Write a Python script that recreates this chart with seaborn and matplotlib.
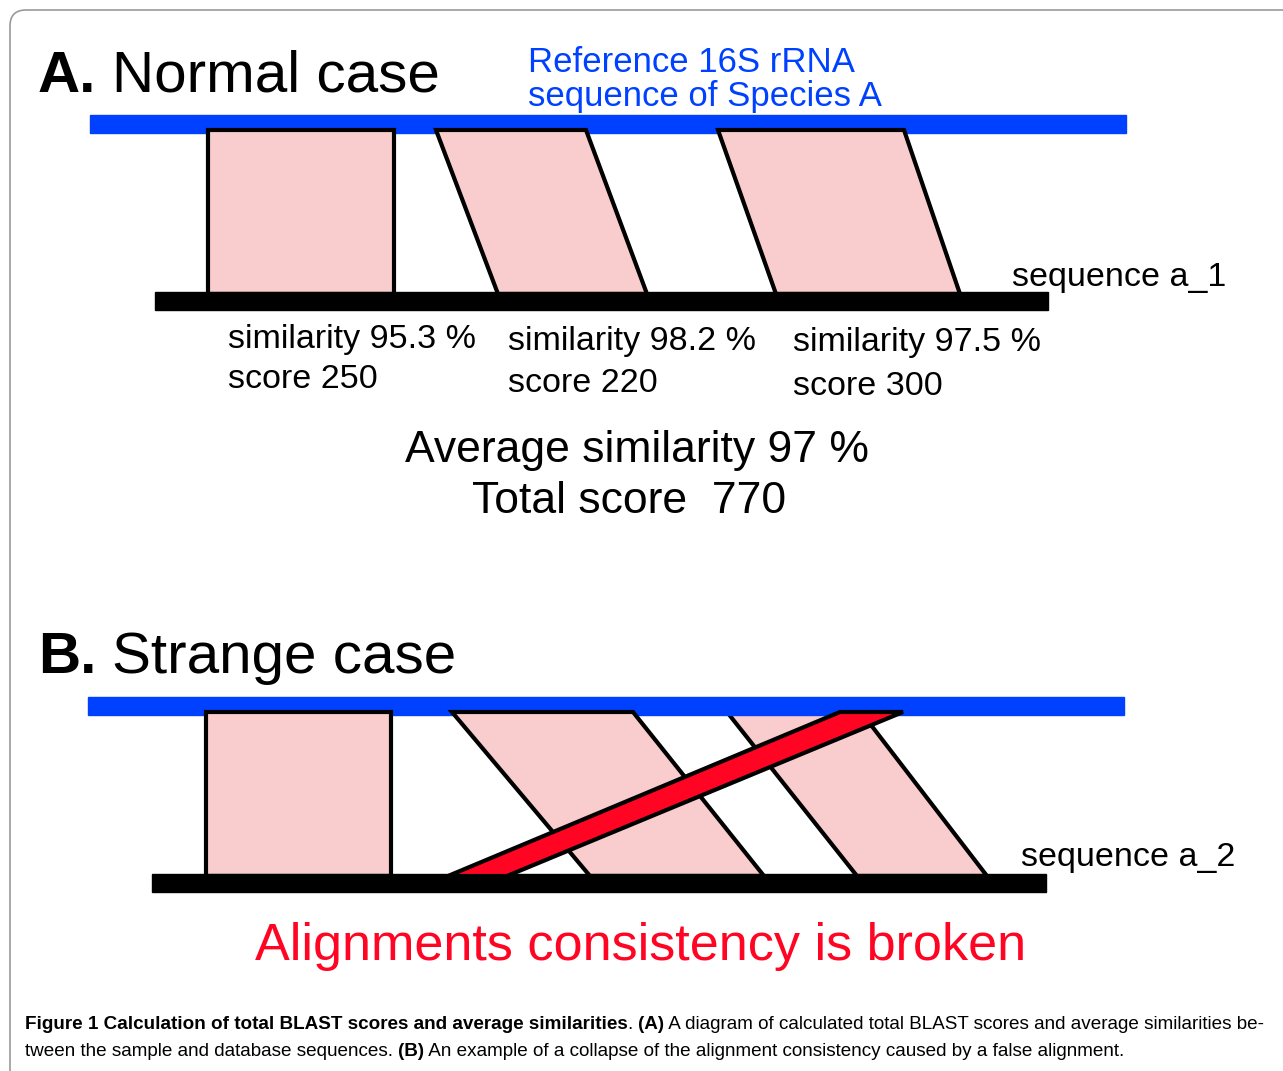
import matplotlib.pyplot as plt
import seaborn as sns
from matplotlib import font_manager
from matplotlib.patches import FancyBboxPatch, Polygon, Rectangle

# alignment blocks: where each hit sits on the reference (top) and on the query (bottom)
ref_a_start = [208, 436, 718]
ref_a_end = [394, 586, 904]
qry_a_start = [208, 498, 776]
qry_a_end = [394, 647, 960]
similarity_a = [95.3, 98.2, 97.5]
score_a = [250, 220, 300]

ref_b_start = [206, 452, 727]
ref_b_end = [391, 633, 861]
qry_b_start = [206, 590, 857]
qry_b_end = [391, 764, 987]

# the false alignment in case B
false_ref = [840, 903]
false_qry = [448, 507]

avg_similarity = 97
total_score = 770

PINK = "#F9CDCD"
BLUE = "#0040FF"
RED = "#FF0523"

sns.set_theme(style="white")
plt.rcParams["font.family"] = ["Liberation Sans", "DejaVu Sans"]
plt.rcParams["text.color"] = "black"

installed = {f.name for f in font_manager.fontManager.ttflist}
cap_font = "Liberation Sans Narrow" if "Liberation Sans Narrow" in installed else "Liberation Sans"

fig = plt.figure(figsize=(12.83, 10.71), dpi=100)
ax = fig.add_axes((0, 0, 1, 1))
ax.set_xlim(0, 1283)
ax.set_ylim(1071, 0)
ax.axis("off")

# rounded frame, clipped by the right and bottom edges
frame = FancyBboxPatch((10, 10), 1400, 1200, boxstyle="round,pad=0,rounding_size=16",
                       fill=False, ec="#9a9a9a", lw=1.2)
ax.add_patch(frame)


def draw_panel(y_ref, y_qry, ref_x, qry_x, rs, re, qs, qe, under_ref=()):
    bar_h = 18
    ax.add_patch(Rectangle((ref_x[0], y_ref), ref_x[1] - ref_x[0], bar_h, color=BLUE, zorder=3))
    ax.add_patch(Rectangle((qry_x[0], y_qry), qry_x[1] - qry_x[0], bar_h, color="black", zorder=5))
    top = y_ref + 15
    bot = y_qry + 2
    for i in range(len(rs)):
        pts = [(rs[i], top), (re[i], top), (qe[i], bot), (qs[i], bot)]
        z = 2 if i in under_ref else 4
        ax.add_patch(Polygon(pts, closed=True, fc=PINK, ec="black", lw=3, joinstyle="miter", zorder=z))


draw_panel(115, 292, (90, 1126), (155, 1048), ref_a_start, ref_a_end, qry_a_start, qry_a_end)
draw_panel(697, 874, (88, 1124), (152, 1046), ref_b_start, ref_b_end, qry_b_start, qry_b_end,
           under_ref=(2,))

ax.add_patch(Polygon([(false_ref[0], 712), (false_ref[1], 712), (false_qry[1], 876), (false_qry[0], 876)],
                     closed=True, fc=RED, ec="black", lw=3, zorder=6))

renderer = fig.canvas.get_renderer()
inv = ax.transData.inverted()


def runs(x, y, parts, size, family=None, color="black"):
    out = []
    for txt, weight in parts:
        t = ax.text(x, y, txt, fontsize=size, fontweight=weight, color=color, va="baseline",
                    family=family, zorder=7)
        out.append(t)
        bb = t.get_window_extent(renderer)
        x = inv.transform((bb.x1, 0))[0]
    return out, x


# section titles
t, xe = runs(38, 92, [("A.", "bold")], 42)
ax.text(xe + 16, 92, "Normal case", fontsize=42, va="baseline")
t, xe = runs(38, 673, [("B.", "bold")], 42)
ax.text(xe + 16, 673, "Strange case", fontsize=42, va="baseline")

ax.text(528, 72, "Reference 16S rRNA", fontsize=25, color=BLUE, va="baseline")
ax.text(528, 106, "sequence of Species A", fontsize=25, color=BLUE, va="baseline")

ax.text(1012, 286, "sequence a_1", fontsize=24.5, va="baseline")
ax.text(1021, 866, "sequence a_2", fontsize=24.5, va="baseline")

label_x = [228, 508, 793]
label_y = [348, 350, 351]
for i in range(3):
    ax.text(label_x[i], label_y[i], f"similarity {similarity_a[i]} %", fontsize=24.5, va="baseline")
    ax.text(label_x[i], label_y[i] + 40 + i * 2, f"score {score_a[i]}", fontsize=24.5, va="baseline")

ax.text(637, 462, f"Average similarity {avg_similarity} %", fontsize=32, ha="center", va="baseline")
ax.text(629, 513, f"Total score  {total_score}", fontsize=32, ha="center", va="baseline")

ax.text(641, 960, "Alignments consistency is broken", fontsize=37.5, color=RED,
        ha="center", va="baseline")

# caption with mixed weights, fitted to the column width
line1 = [("Figure 1 Calculation of total BLAST scores and average similarities", "bold"),
         (". ", "normal"), ("(A)", "bold"),
         (" A diagram of calculated total BLAST scores and average similarities be-", "normal")]
line2 = [("tween the sample and database sequences. ", "normal"), ("(B)", "bold"),
         (" An example of a collapse of the alignment consistency caused by a false alignment.", "normal")]

size = 13
for _ in range(3):
    texts, xe = runs(25, 1029, line1, size, family=cap_font)
    width = xe - 25
    if abs(width - 1240) < 3:
        break
    for t in texts:
        t.remove()
    size *= 1240 / width
runs(25, 1056, line2, size, family=cap_font)

fig.savefig("out.png", dpi=100)
